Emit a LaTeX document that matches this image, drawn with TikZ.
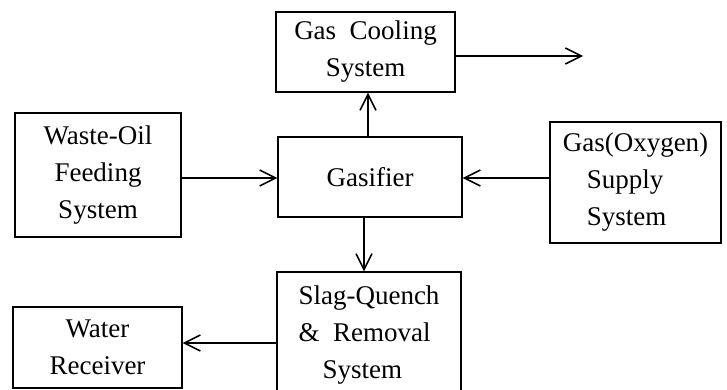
\documentclass[tikz,border=0pt]{standalone}
\usepackage{fontspec}
\setmainfont{Liberation Serif}
\usetikzlibrary{arrows.meta}
\tikzset{
  blk/.style={draw, line width=1.4pt, inner sep=0pt, font=\fontsize{27}{37}\selectfont},
  arr/.style={draw, line width=1.4pt, -{Straight Barb[length=16pt, width=16pt, line width=1.5pt]}}
}
\begin{document}
\begin{tikzpicture}[x=1pt, y=-1pt]
\clip (0,0) rectangle (727,390);
\fill[white] (0,0) rectangle (727,390);
\node[blk, minimum width=179pt, minimum height=80pt, align=center] (cool) at (365.5,52) {Gas\ \ Cooling\\System};
\node[blk, minimum width=184pt, minimum height=80pt, align=center] (gas) at (370,177) {Gasifier};
\node[blk, minimum width=166pt, minimum height=124pt, align=center] (waste) at (98,175) {Waste-Oil\\Feeding\\System};
\node[blk, minimum width=171pt, minimum height=121pt, align=left] (oxy) at (635.5,182.5) {Gas(Oxygen)\\\hspace*{24pt}Supply\\\hspace*{24pt}System};
\node[blk, minimum width=184pt, minimum height=126pt, align=left] (slag) at (369,335) {Slag-Quench\\\&\ \ Removal\\\hspace*{24pt}System};
\node[blk, minimum width=169pt, minimum height=81pt, align=center] (water) at (97.5,347.5) {Water\\Receiver};
\coordinate (out) at (583,56);
\coordinate (ly) at (0,178);
\coordinate (wy) at (0,343);
\coordinate (ux) at (368,0);
\coordinate (dx) at (364,0);
\draw[arr] (waste.east |- ly) -- (gas.west |- ly);
\draw[arr] (oxy.west |- ly) -- (gas.east |- ly);
\draw[arr] (ux |- gas.north) -- (ux |- cool.south);
\draw[arr] (dx |- gas.south) -- (dx |- slag.north);
\draw[arr] (cool.east |- out) -- (out);
\draw[arr] (slag.west |- wy) -- (water.east |- wy);
\end{tikzpicture}
\end{document}
